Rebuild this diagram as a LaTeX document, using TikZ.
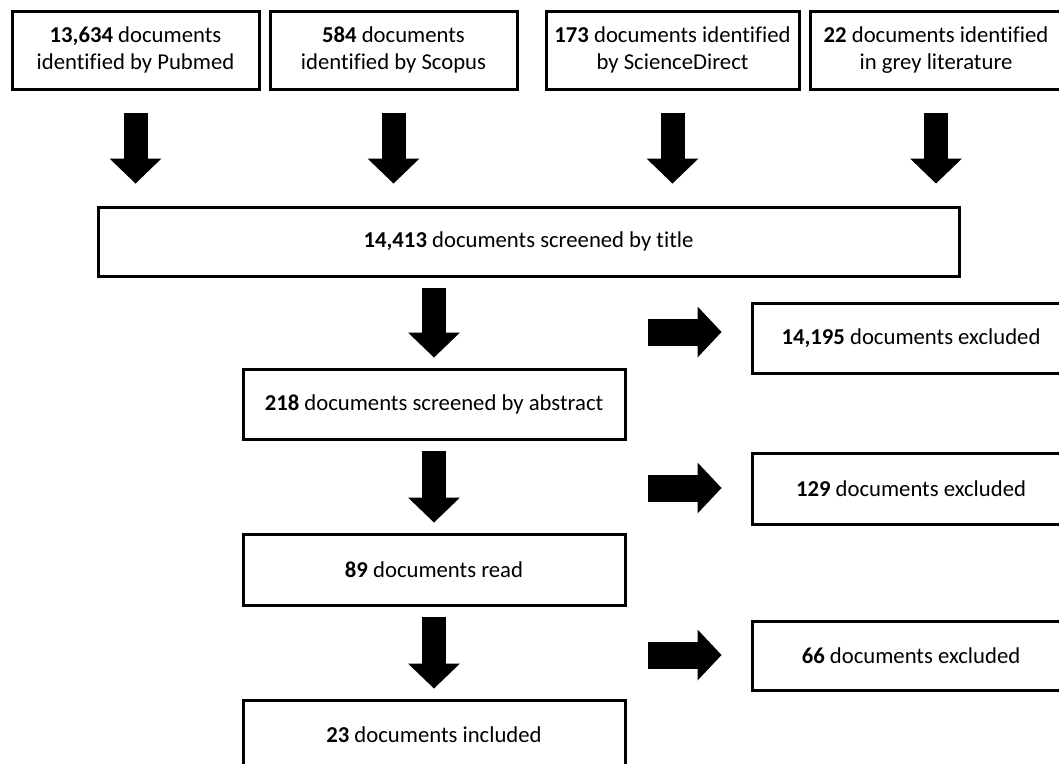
\documentclass[tikz,border=0pt]{standalone}
\usepackage{fontspec}
\setmainfont[Ligatures=NoCommon]{Carlito}
\usepackage{tikz}
\usetikzlibrary{arrows.meta}

\tikzset{
  docbox/.style={draw, line width=3pt, inner sep=0pt, align=center,
    font=\fontsize{22.7}{27}\selectfont},
  fatdown/.style={line width=24pt, shorten <=10pt, shorten >=10pt,
    -{Triangle[width=52pt,length=25pt,line width=0pt]}},
  fatright/.style={line width=27pt, shorten >=29pt,
    -{Triangle[width=51pt,length=24pt,line width=0pt]}}
}

\begin{document}
\begin{tikzpicture}[x=1pt,y=-1pt]
      \useasboundingbox (0,0) rectangle (1059,763);
      \clip (0,0) rectangle (1059,763);

      % sources
      \node [docbox, minimum width=247pt, minimum height=78pt] (pub) at (135.5,50) {\textbf{13,634} documents\\identified by Pubmed};
      \node [docbox, minimum width=247pt, minimum height=78pt] (sco) at (393.5,50) {\textbf{584} documents\\identified by Scopus};
      \node [docbox, minimum width=253pt, minimum height=78pt] (sci) at (672.5,50) {\textbf{173} documents identified\\by ScienceDirect};
      \node [docbox, minimum width=252pt, minimum height=78pt] (grey) at (936,50) {\textbf{22} documents identified\\in grey literature};

      % screening
      \node [docbox, minimum width=861pt, minimum height=69pt] (title) at (528.5,241.5) {\textbf{14,413} documents screened by title};
      \node [docbox, minimum width=382pt, minimum height=70pt] (abs) at (434,404) {\textbf{218} documents screened by abstract};
      \node [docbox, minimum width=382pt, minimum height=71pt] (read) at (434,569.5) {\textbf{89} documents read};
      \node [docbox, minimum width=382pt, minimum height=70pt] (incl) at (434,735) {\textbf{23} documents included};

      % excluded
      \node [docbox, minimum width=318pt, minimum height=70pt] (exc1) at (911,338) {\textbf{14,195} documents excluded};
      \node [docbox, minimum width=318pt, minimum height=71pt] (exc2) at (911,488.5) {\textbf{129} documents excluded};
      \node [docbox, minimum width=318pt, minimum height=69pt] (exc3) at (911,655.5) {\textbf{66} documents excluded};

      % arrows down
      \draw [fatdown, shorten <=22pt, shorten >=22pt] (pub) -- (pub |- title.north);
      \draw [fatdown, shorten <=22pt, shorten >=22pt] (sco) -- (sco |- title.north);
      \draw [fatdown, shorten <=22pt, shorten >=22pt] (sci) -- (sci |- title.north);
      \draw [fatdown, shorten <=22pt, shorten >=22pt] (grey) -- (grey |- title.north);
      \draw [fatdown] (title.south -| abs.north) -- (abs.north);
      \draw [fatdown] (abs) -- (read);
      \draw [fatdown] (read) -- (incl);

      % arrows right
      \coordinate (cut1) at (648,332);
      \coordinate (cut2) at (648,488);
      \coordinate (cut3) at (648,655);
      \draw [fatright] (cut1) -- (cut1 -| exc1.west);
      \draw [fatright] (cut2) -- (cut2 -| exc2.west);
      \draw [fatright] (cut3) -- (cut3 -| exc3.west);
\end{tikzpicture}
\end{document}
